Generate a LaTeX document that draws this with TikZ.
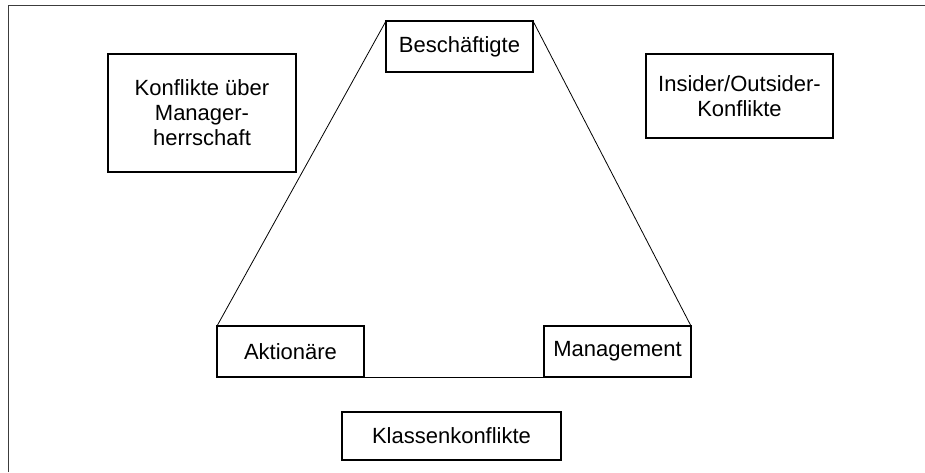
\documentclass[tikz,border=0pt]{standalone}
\usepackage{fontspec}
\setmainfont{Liberation Sans}
\usepackage{tikz}
\usepackage{xcolor}
\definecolor{Rahmen}{RGB}{60, 60, 60}

\begin{document}
\begin{tikzpicture}[x=1pt, y=-1pt, font=\fontsize{22}{25}\selectfont,
  kasten/.style={rectangle, draw=black, line width=1.2pt, inner sep=0pt, outer sep=0pt, align=center}]

\useasboundingbox (0,0) rectangle (925,472);
\draw [Rahmen, line width=1pt] (8,472) -- (8,5) -- (925,5);

\node [kasten, minimum width=147pt, minimum height=51pt] (besch) at (459.5,46.5) {Beschäftigte};

\node [kasten, minimum width=147pt, minimum height=51pt] (akt) at (290.5,351.5) {Aktionäre};

\node [kasten, minimum width=147pt, minimum height=51pt] (mgmt) at (617.5,351.5) {Management};

\node [kasten, minimum width=219pt, minimum height=48pt] (klass) at (451.5,436) {Klassenkonflikte};

\node [kasten, minimum width=188pt, minimum height=118pt] (herr) at (202,113) {Konflikte über\\ Manager-\\ herrschaft};

\node [kasten, minimum width=187pt, minimum height=84pt] (insider) at (739.5,96) {Insider/Outsider-\\ Konflikte};

\draw [line width=0.8pt] (besch.north west) -- (akt.north west);
\draw [line width=0.8pt] (besch.north east) -- (mgmt.north east);
\draw [line width=0.8pt] (akt.south east) -- (mgmt.south west);

\end{tikzpicture}
\end{document}
